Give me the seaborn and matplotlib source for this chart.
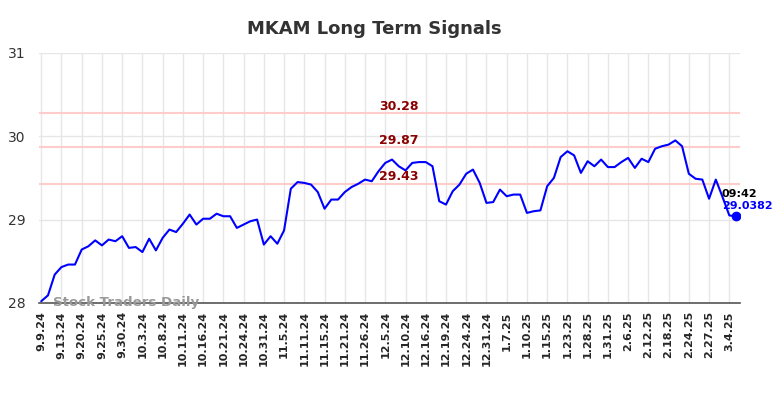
import pandas as pd
import matplotlib.pyplot as plt
import seaborn as sns

# closing values, one per trading day
prices = [
    28.02, 28.09, 28.34, 28.43, 28.46, 28.46, 28.64, 28.68, 28.75, 28.69,
    28.76, 28.74, 28.80, 28.66, 28.67, 28.61, 28.77, 28.63, 28.78, 28.88,
    28.85, 28.95, 29.06, 28.94, 29.01, 29.01, 29.07, 29.04, 29.04, 28.90,
    28.94, 28.98, 29.00, 28.70, 28.80, 28.71, 28.87, 29.37, 29.45, 29.44,
    29.42, 29.33, 29.13, 29.24, 29.24, 29.33, 29.39, 29.43, 29.48, 29.46,
    29.58, 29.68, 29.72, 29.64, 29.59, 29.68, 29.69, 29.69, 29.64, 29.22,
    29.18, 29.34, 29.42, 29.55, 29.60, 29.44, 29.20, 29.21, 29.36, 29.28,
    29.30, 29.30, 29.08, 29.10, 29.11, 29.40, 29.50, 29.75, 29.82, 29.77,
    29.56, 29.70, 29.64, 29.72, 29.63, 29.63, 29.69, 29.74, 29.62, 29.73,
    29.69, 29.85, 29.88, 29.90, 29.95, 29.88, 29.55, 29.49, 29.48, 29.25,
    29.48, 29.27, 29.05, 29.0382,
]
tick_labels = [
    '9.9.24', '9.13.24', '9.20.24', '9.25.24', '9.30.24', '10.3.24', '10.8.24',
    '10.11.24', '10.16.24', '10.21.24', '10.24.24', '10.31.24', '11.5.24',
    '11.11.24', '11.15.24', '11.21.24', '11.26.24', '12.5.24', '12.10.24',
    '12.16.24', '12.19.24', '12.24.24', '12.31.24', '1.7.25', '1.10.25',
    '1.15.25', '1.23.25', '1.28.25', '1.31.25', '2.6.25', '2.12.25',
    '2.18.25', '2.24.25', '2.27.25', '3.4.25',
]
signal_levels = [30.28, 29.87, 29.43]
last_time = '09:42'

df = pd.DataFrame({'idx': range(len(prices)), 'price': prices})

sns.set_style('whitegrid')
plt.rcParams['font.family'] = ['DejaVu Sans']

fig = plt.figure(figsize=(7.84, 3.98), dpi=100)
ax = fig.add_axes([0.05, 0.239, 0.894, 0.628])

for lvl in signal_levels:
    ax.axhline(lvl, color='#ffcccc', lw=1.5, zorder=1)
    ax.text(len(prices) * 0.51, lvl + 0.005, f'{lvl:.2f}', color='#8b0000',
            fontsize=9, fontweight='bold', ha='center', va='bottom', zorder=3)

sns.lineplot(data=df, x='idx', y='price', color='#0000ff', lw=1.5, ax=ax, zorder=2)
ax.plot(df['idx'].iloc[-1], df['price'].iloc[-1], 'o', color='#0000ff', ms=6, zorder=4)

ax.text(df['idx'].iloc[-1] - 2.1, df['price'].iloc[-1] + 0.27, last_time,
        fontsize=8, fontweight='bold', color='black', ha='left', va='center')
ax.text(df['idx'].iloc[-1] - 2.1, df['price'].iloc[-1] + 0.12, f'{prices[-1]}',
        fontsize=8, fontweight='bold', color='#0000ff', ha='left', va='center')

ax.text(1.8, 28.01, 'Stock Traders Daily', fontsize=9.6, fontweight='bold',
        color='#999999', ha='left', va='center', zorder=3)

ax.set_xlim(-0.3, len(prices) - 0.4)
ax.set_ylim(28, 31)
ax.set_yticks([28, 29, 30, 31])
ax.set_xticks(range(0, len(prices), 3))
ax.set_xticklabels(tick_labels, rotation=90, fontsize=8, fontweight='bold')
ax.tick_params(axis='y', labelsize=10, colors='#333333', length=0, pad=10)
ax.tick_params(axis='x', length=0, pad=6)
ax.grid(True, color='#e6e6e6', lw=1)
ax.set_xlabel('')
ax.set_ylabel('')
for side in ['left', 'right', 'top']:
    ax.spines[side].set_visible(False)
ax.spines['bottom'].set_color('#555555')
ax.spines['bottom'].set_linewidth(1.2)

fig.suptitle('MKAM Long Term Signals', x=0.478, y=0.95, fontsize=13,
             fontweight='bold', color='#333333')

fig.savefig('out.png', dpi=100)
